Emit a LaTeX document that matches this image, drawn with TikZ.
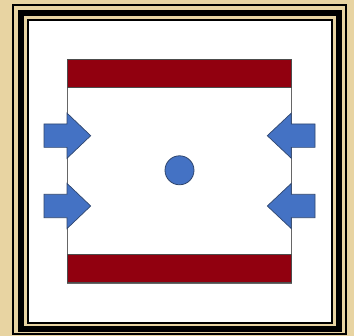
\documentclass[tikz,border=0pt]{standalone}
\usetikzlibrary{calc}
\definecolor{parch}{RGB}{232,212,162}
\definecolor{barred}{RGB}{145,0,15}
\definecolor{arrblue}{RGB}{68,114,196}
\definecolor{arrline}{RGB}{47,70,110}
\tikzset{
  thinframe/.style={draw=black,line width=1.8pt},
  thickframe/.style={draw=black,line width=6.2pt},
  redbar/.style={fill=barred,draw=black!70,line width=0.6pt},
  bluearrow/.style={fill=arrblue,draw=arrline,line width=0.7pt,line join=miter},
  box/.style={draw=black!60,line width=0.7pt,fill=white},
}
\begin{document}
\begin{tikzpicture}[x=1pt,y=-1pt]
\useasboundingbox (0,0) rectangle (354,336);
\fill[parch] (0,0) rectangle (354,336);
% white interior
\fill[white] (27.7,20) rectangle (332,322.8);
% frame lines
\draw[thinframe] (13.2,5.2) rectangle (346.2,334.3);
\draw[thickframe] (21,13.2) rectangle (339,329);
\draw[thinframe] (27.7,20) rectangle (332,322.8);
% box
\node[box,minimum width=224pt,minimum height=224pt,inner sep=0pt,anchor=north west] (box) at (67,59) {};
\node[redbar,minimum width=224pt,minimum height=28pt,inner sep=0pt,anchor=north west] (topbar) at (67,59) {};
\node[redbar,minimum width=224pt,minimum height=28pt,inner sep=0pt,anchor=south west] (botbar) at (67,283) {};
% circle
\node[circle,fill=arrblue,draw=arrline,line width=0.8pt,minimum size=29pt,inner sep=0pt] (dot) at (179.5,170.3) {};
% arrows
\foreach \cy/\nm in {135.7/ul,206/ll}{
  \draw[bluearrow] (44,\cy-11.7) -- (67,\cy-11.7) -- (67,\cy-22.6) -- (90.7,\cy) -- (67,\cy+22.6) -- (67,\cy+11.7) -- (44,\cy+11.7) -- cycle;
}
\foreach \cy/\nm in {135.7/ur,206/lr}{
  \draw[bluearrow] (315,\cy-11.7) -- (291.3,\cy-11.7) -- (291.3,\cy-22.6) -- (267.3,\cy) -- (291.3,\cy+22.6) -- (291.3,\cy+11.7) -- (315,\cy+11.7) -- cycle;
}
\end{tikzpicture}
\end{document}
